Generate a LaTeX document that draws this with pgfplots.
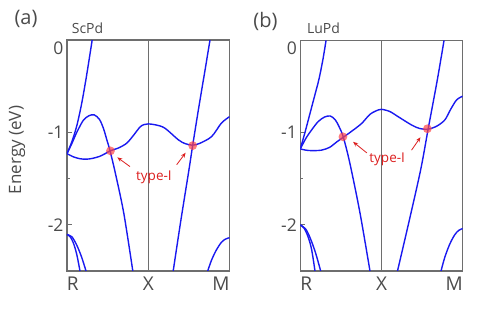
\documentclass[border=0pt]{standalone}
\usepackage{fontspec}
\setmainfont{Open Sans}
\usepackage{pgfplots}
\pgfplotsset{compat=1.18}
\usetikzlibrary{arrows.meta}

\definecolor{bandblue}{RGB}{25,25,240}
\definecolor{labgray}{RGB}{75,75,75}
\definecolor{axgray}{RGB}{110,110,110}
\definecolor{weylred}{RGB}{255,70,70}
\definecolor{typered}{RGB}{220,30,30}

\pgfplotsset{
  bandaxis/.style={
    anchor=south west, scale only axis,
    xmin=0, xmax=2, ymin=-2.5, ymax=0,
    axis line style={axgray, line width=1.1pt},
    xtick={0,1,2},
    xticklabels={\makebox[0pt][l]{R},X,\makebox[0pt][r]{M}},
    major x tick style={draw=none},
    xticklabel style={font=\fontsize{19}{19}\selectfont, text=labgray, yshift=-2pt},
    ytick={-2,-1},
    yticklabels={-2,-1},
    extra y ticks={0},
    extra y tick labels={0},
    extra y tick style={yticklabel style={yshift=-8pt}},
    minor y tick num=1,
    ytick pos=left, tick align=inside,
    major tick length=5pt, minor tick length=3pt,
    tick style={axgray, line width=0.8pt},
    yticklabel style={font=\fontsize{17.5}{17.5}\selectfont, text=labgray},
  },
  band/.style={bandblue, line width=1.4pt, smooth, no marks},
  weyl/.style={only marks, mark=*, mark size=4.4pt, weylred, draw opacity=0, fill opacity=0.7},
}

\begin{document}
\begin{tikzpicture}[x=1pt,y=1pt]
\path[use as bounding box] (0,0) rectangle (480,326);

% ---- (a) ScPd
\begin{axis}[bandaxis, at={(67pt,55pt)}, width=162.5pt, height=231pt]
\draw[axgray, line width=0.9pt] (axis cs:1,-2.5) -- (axis cs:1,0);
\addplot[band] coordinates {(0,-1.23) (0.06,-1.10) (0.12,-0.93) (0.18,-0.69) (0.24,-0.39) (0.31,0.0)};
\addplot[band] coordinates {(0,-1.23) (0.06,-1.12) (0.12,-1.00) (0.2,-0.87) (0.27,-0.82) (0.335,-0.81) (0.40,-0.86) (0.45,-0.96) (0.49,-1.08) (0.53,-1.20) (0.60,-1.46) (0.70,-1.88) (0.81,-2.5)};
\addplot[band] coordinates {(0,-1.23) (0.08,-1.265) (0.16,-1.285) (0.24,-1.29) (0.32,-1.28) (0.40,-1.26) (0.47,-1.23) (0.53,-1.20) (0.63,-1.17) (0.735,-1.117) (0.82,-1.03) (0.9,-0.94) (0.95,-0.915) (1.0,-0.908) (1.1,-0.92) (1.206,-0.955) (1.37,-1.08) (1.45,-1.12) (1.54,-1.138) (1.63,-1.12) (1.78,-1.045) (1.9,-0.90) (2.0,-0.83)};
\addplot[band] coordinates {(1.307,-2.5) (1.40,-1.96) (1.50,-1.41) (1.547,-1.14) (1.62,-0.74) (1.70,-0.32) (1.76,0.0)};
\addplot[band] coordinates {(0,-2.105) (0.04,-2.13) (0.08,-2.20) (0.12,-2.32) (0.16,-2.5)};
\addplot[band] coordinates {(0,-2.105) (0.06,-2.13) (0.12,-2.22) (0.18,-2.35) (0.234,-2.5)};
\addplot[band] coordinates {(1.732,-2.5) (1.78,-2.38) (1.84,-2.27) (1.9,-2.19) (1.95,-2.155) (2.0,-2.14)};
\addplot[weyl] coordinates {(0.535,-1.20) (1.547,-1.143)};
\draw[typered, line width=0.8pt, -{Stealth[length=5pt,width=4pt]}] (axis cs:0.775,-1.37) -- (axis cs:0.619,-1.27);
\draw[typered, line width=0.8pt, -{Stealth[length=5pt,width=4pt]}] (axis cs:1.35,-1.35) -- (axis cs:1.46,-1.22);
\node[typered, font=\fontsize{13.5}{13.5}\selectfont] at (axis cs:1.07,-1.49) {type-I};
\end{axis}

% ---- (b) LuPd
\begin{axis}[bandaxis, at={(300.3pt,55pt)}, width=162.4pt, height=230.6pt]
\draw[axgray, line width=0.9pt] (axis cs:1,-2.5) -- (axis cs:1,0);
\addplot[band] coordinates {(0,-1.177) (0.06,-0.99) (0.12,-0.79) (0.18,-0.59) (0.23,-0.42) (0.28,-0.20) (0.317,0.0)};
\addplot[band] coordinates {(0,-1.177) (0.07,-1.06) (0.14,-0.97) (0.22,-0.88) (0.30,-0.83) (0.37,-0.82) (0.43,-0.86) (0.48,-0.94) (0.53,-1.05) (0.61,-1.33) (0.735,-1.87) (0.858,-2.5)};
\addplot[band] coordinates {(0,-1.177) (0.07,-1.19) (0.14,-1.195) (0.26,-1.19) (0.36,-1.16) (0.45,-1.10) (0.53,-1.05) (0.64,-0.98) (0.756,-0.90) (0.86,-0.80) (0.96,-0.754) (1.0,-0.747) (1.1,-0.77) (1.205,-0.827) (1.37,-0.917) (1.47,-0.955) (1.57,-0.963) (1.68,-0.93) (1.78,-0.862) (1.85,-0.75) (1.925,-0.645) (2.0,-0.605)};
\addplot[band] coordinates {(1.197,-2.5) (1.34,-1.96) (1.483,-1.40) (1.574,-0.963) (1.687,-0.43) (1.77,0.0)};
\addplot[band] coordinates {(0,-2.0) (0.05,-2.04) (0.1,-2.14) (0.14,-2.27) (0.181,-2.5)};
\addplot[band] coordinates {(0,-2.0) (0.07,-2.05) (0.13,-2.16) (0.19,-2.31) (0.251,-2.5)};
\addplot[band] coordinates {(1.733,-2.5) (1.78,-2.35) (1.84,-2.21) (1.9,-2.11) (1.95,-2.06) (2.0,-2.04)};
\addplot[weyl] coordinates {(0.525,-1.045) (1.565,-0.958)};
\draw[typered, line width=0.8pt, -{Stealth[length=5pt,width=4pt]}] (axis cs:0.82,-1.22) -- (axis cs:0.65,-1.10);
\draw[typered, line width=0.8pt, -{Stealth[length=5pt,width=4pt]}] (axis cs:1.37,-1.19) -- (axis cs:1.48,-1.05);
\node[typered, font=\fontsize{13.5}{13.5}\selectfont] at (axis cs:1.07,-1.29) {type-I};
\end{axis}

% ---- panel labels and common y label
\node[text=labgray, font=\fontsize{20}{20}\selectfont] at (26,307) {(a)};
\node[text=labgray, font=\fontsize{14}{14}\selectfont] at (87.5,298) {ScPd};
\node[text=labgray, font=\fontsize{20}{20}\selectfont] at (265.5,305) {(b)};
\node[text=labgray, font=\fontsize{14}{14}\selectfont] at (323.5,298) {LuPd};
\node[text=labgray, font=\fontsize{17}{17}\selectfont, rotate=90] at (17,176) {Energy (eV)};
\end{tikzpicture}
\end{document}
